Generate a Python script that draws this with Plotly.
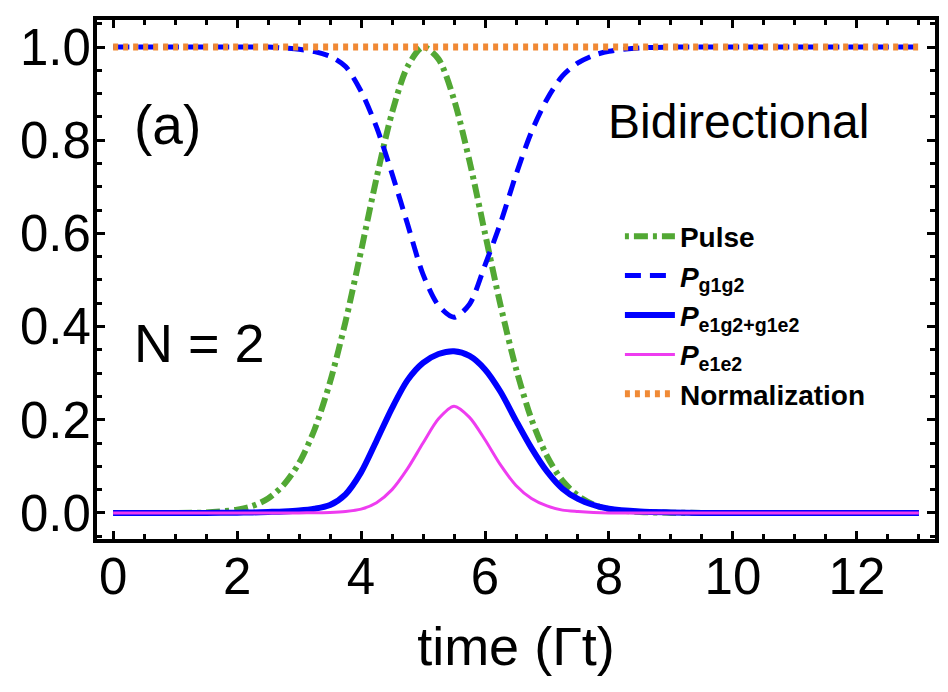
import plotly.graph_objects as go

# time grid (Gamma t)
t = [0, 0.5, 1, 1.5, 2, 2.25, 2.5, 2.75, 3, 3.25, 3.5, 3.75, 4, 4.25, 4.5, 4.75,
     5, 5.25, 5.5, 5.75, 6, 6.25, 6.5, 6.75, 7, 7.25, 7.5, 7.75, 8, 8.5,
     9, 9.5, 10, 11, 12, 13]

pulse = [0, 0, 0, 0.001, 0.007, 0.015, 0.031, 0.060, 0.107, 0.179, 0.281, 0.411,
         0.562, 0.719, 0.859, 0.958, 1.0, 0.974, 0.887, 0.755, 0.600, 0.446,
         0.310, 0.201, 0.122, 0.069, 0.037, 0.018, 0.008, 0.002,
         0.0005, 0, 0, 0, 0, 0]

p_g1g2 = [1, 1, 1, 1, 1, 1, 1, 0.998, 0.995, 0.990, 0.980, 0.958, 0.905, 0.828,
          0.728, 0.620, 0.512, 0.445, 0.42, 0.448, 0.532, 0.622, 0.726, 0.818,
          0.888, 0.938, 0.966, 0.982, 0.991, 0.998, 1, 1, 1, 1, 1, 1]

p_e = [0, 0, 0, 0, 0.0005, 0.001, 0.002, 0.003, 0.005, 0.009, 0.017, 0.040,
       0.087, 0.155, 0.225, 0.285, 0.322, 0.341, 0.347, 0.337, 0.308, 0.260,
       0.198, 0.139, 0.089, 0.052, 0.030, 0.017, 0.009, 0.003,
       0.001, 0, 0, 0, 0, 0]

p_ee = [0, 0, 0, 0, 0, 0, 0, 0, 0, 0.0005, 0.001, 0.003, 0.008, 0.022, 0.050,
        0.095, 0.150, 0.202, 0.229, 0.205, 0.157, 0.103, 0.059, 0.031, 0.015,
        0.006, 0.003, 0.001, 0, 0, 0, 0, 0, 0, 0, 0]

norm = [1] * len(t)

font = "Liberation Sans, Arial, sans-serif"

fig = go.Figure()
fig.add_trace(go.Scatter(x=t, y=pulse, mode="lines", name="Pulse", line_shape="spline",
                         line=dict(color="#52a834", width=6, dash="4px,5px,14px,5px", smoothing=0.8)))
fig.add_trace(go.Scatter(x=t, y=p_g1g2, mode="lines", name="<i>P</i><sub>g1g2</sub>", line_shape="spline",
                         line=dict(color="#0000ff", width=5, dash="16px,9px", smoothing=0.8)))
fig.add_trace(go.Scatter(x=t, y=p_e, mode="lines", name="<i>P</i><sub>e1g2+g1e2</sub>", line_shape="spline",
                         line=dict(color="#0000ff", width=6, smoothing=0.8)))
fig.add_trace(go.Scatter(x=t, y=p_ee, mode="lines", name="<i>P</i><sub>e1e2</sub>", line_shape="spline",
                         line=dict(color="#ee3cf0", width=3, smoothing=0.8)))
fig.add_trace(go.Scatter(x=t, y=norm, mode="lines", name="Normalization",
                         line=dict(color="#f08a36", width=7, dash="5px,5px")))

axis_common = dict(showline=True, linecolor="black", linewidth=4, mirror="ticks",
                   ticks="inside", ticklen=8, tickwidth=3, tickcolor="black",
                   showgrid=False, zeroline=False, automargin=False,
                   tickfont=dict(family=font, size=51, color="black"))

fig.update_xaxes(range=[-0.26, 13.26], tickvals=[0, 2, 4, 6, 8, 10, 12], ticklabelstandoff=-10,
                 minor=dict(dtick=0.5, ticklen=5, tickwidth=3, tickcolor="black", ticks="inside"),
                 title=dict(text="time (\u0393t)", font=dict(family=font, size=54, color="black"), standoff=24),
                 **axis_common)
fig.update_yaxes(range=[-0.056, 1.058], tickvals=[0, 0.2, 0.4, 0.6, 0.8, 1.0], tickformat=".1f",
                 ticklabelstandoff=-8,
                 minor=dict(dtick=0.05, ticklen=5, tickwidth=3, tickcolor="black", ticks="inside"),
                 **axis_common)

fig.add_annotation(x=0.87, y=0.833, text="(a)", showarrow=False, xanchor="center", yanchor="middle",
                   font=dict(family=font, size=55, color="black"))
fig.add_annotation(x=1.39, y=0.365, text="N = 2", showarrow=False, xanchor="center", yanchor="middle",
                   font=dict(family=font, size=54, color="black"))
fig.add_annotation(x=10.09, y=0.841, text="Bidirectional", showarrow=False, xanchor="center", yanchor="middle",
                   font=dict(family=font, size=48, color="black"))

# page body keeps an 8px margin, so the figure is 8px smaller than the window
fig.update_layout(
    width=940, height=684,
    margin=dict(l=89, r=13, t=12, b=153),
    plot_bgcolor="white", paper_bgcolor="white",
    showlegend=True,
    legend=dict(x=0.624, y=0.631, xanchor="left", yanchor="top", bgcolor="rgba(0,0,0,0)",
                font=dict(family=font, size=28, color="black", weight="bold"),
                itemwidth=50, tracegroupgap=0),
)

fig.write_html("out.html")
